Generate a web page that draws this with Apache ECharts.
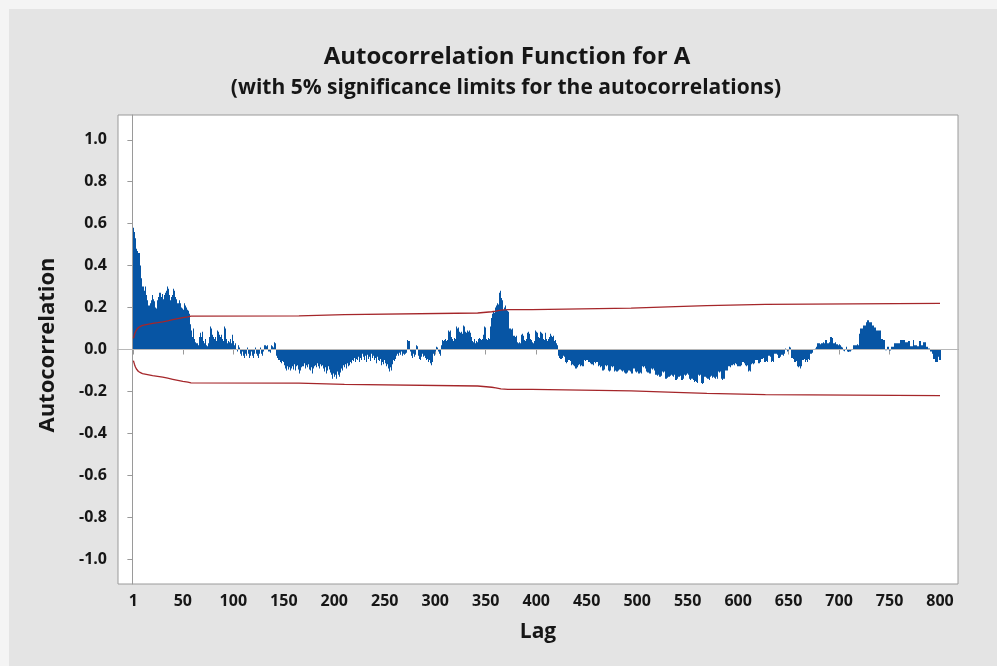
<!DOCTYPE html>
<html>
<head>
<meta charset="utf-8">
<script src="https://cdn.jsdelivr.net/npm/echarts@6/dist/echarts.min.js"></script>
<style>
  html, body { margin: 0; padding: 0; background: #f4f4f4; }
  #chart { position: absolute; left: 9px; top: 9px; width: 988px; height: 657px; }
</style>
</head>
<body>
<div id="chart"></div>
<script>
// Lag tick labels on the x axis
const lagTicks = [1, 50, 100, 150, 200, 250, 300, 350, 400, 450, 500, 550, 600, 650, 700, 750, 800];
// Autocorrelation tick labels on the y axis
const acfTicks = [-1.0, -0.8, -0.6, -0.4, -0.2, 0.0, 0.2, 0.4, 0.6, 0.8, 1.0];

// Sample autocorrelations for lags 1..800 (20 lags per row)
const acf = [
  0.58, 0.56, 0.53, 0.48, 0.47, 0.46, 0.46, 0.40, 0.34, 0.30, 0.30, 0.28, 0.30, 0.26, 0.235, 0.21, 0.21, 0.22, 0.235, 0.26,
  0.24, 0.23, 0.20, 0.195, 0.235, 0.25, 0.27, 0.27, 0.25, 0.265, 0.24, 0.26, 0.27, 0.28, 0.30, 0.29, 0.26, 0.235, 0.25, 0.26,
  0.29, 0.28, 0.25, 0.24, 0.22, 0.22, 0.235, 0.22, 0.20, 0.195, 0.19, 0.22, 0.21, 0.20, 0.19, 0.185, 0.17, 0.12, 0.09, 0.06,
  0.10, 0.05, 0.035, 0.03, 0.02, 0.06, 0.08, 0.06, 0.085, 0.04, 0.03, 0.05, 0.02, 0.015, 0.03, 0.06, 0.11, 0.10, 0.07, 0.06,
  0.05, 0.06, 0.04, 0.09, 0.085, 0.07, 0.06, 0.07, 0.05, 0.04, 0.11, 0.10, 0.05, 0.03, 0.04, 0.035, 0.05, 0.03, 0.07, 0.04,
  0.02, 0.03, 0.00, -0.01, 0.02, 0.01, -0.02, -0.03, -0.01, -0.03, -0.04, -0.02, -0.03, 0.01, -0.02, -0.04, -0.03, -0.01, -0.03, -0.04,
  -0.02, 0.01, -0.02, -0.03, -0.04, -0.02, 0.01, -0.02, -0.03, -0.01, 0.02, 0.02, 0.015, 0.02, -0.01, -0.01, -0.015, 0.02, 0.015, 0.01,
  0.035, 0.03, -0.03, -0.04, -0.05, -0.05, -0.06, -0.065, -0.055, -0.06, -0.075, -0.09, -0.10, -0.08, -0.095, -0.085, -0.10, -0.09, -0.08, -0.095,
  -0.07, -0.10, -0.08, -0.075, -0.095, -0.115, -0.10, -0.085, -0.08, -0.065, -0.09, -0.075, -0.085, -0.07, -0.095, -0.10, -0.085, -0.115, -0.09, -0.08,
  -0.075, -0.085, -0.065, -0.08, -0.09, -0.07, -0.08, -0.075, -0.09, -0.105, -0.085, -0.115, -0.10, -0.08, -0.095, -0.11, -0.12, -0.14, -0.115, -0.13,
  -0.12, -0.14, -0.105, -0.12, -0.13, -0.11, -0.09, -0.10, -0.075, -0.085, -0.07, -0.09, -0.065, -0.08, -0.075, -0.06, -0.065, -0.05, -0.055, -0.04,
  -0.06, -0.045, -0.05, -0.035, -0.06, -0.04, -0.05, -0.02, -0.035, -0.05, -0.03, -0.06, -0.025, -0.045, -0.035, -0.055, -0.02, -0.04, -0.03, -0.05,
  -0.04, -0.065, -0.035, -0.05, -0.055, -0.045, -0.075, -0.06, -0.07, -0.05, -0.065, -0.08, -0.07, -0.09, -0.105, -0.085, -0.10, -0.07, -0.05, -0.055,
  -0.045, -0.03, -0.02, -0.03, -0.015, -0.025, -0.01, -0.03, -0.02, -0.025, -0.02, -0.015, 0.045, 0.04, -0.01, -0.03, -0.04, -0.02, -0.035, -0.025,
  0.02, 0.015, -0.03, -0.045, -0.05, -0.035, -0.02, -0.035, -0.03, -0.04, -0.05, -0.045, -0.06, -0.05, -0.065, -0.075, -0.06, -0.02, -0.03, -0.01,
  0.013, 0.01, -0.01, -0.02, -0.03, 0.02, 0.045, 0.04, 0.045, 0.05, 0.04, 0.045, 0.09, 0.085, 0.09, 0.06, 0.05, 0.04, 0.055, 0.05,
  0.11, 0.10, 0.105, 0.085, 0.08, 0.085, 0.075, 0.115, 0.11, 0.085, 0.08, 0.09, 0.085, 0.09, 0.08, 0.06, 0.04, 0.035, 0.05, 0.03,
  0.04, 0.035, 0.05, 0.055, 0.05, 0.045, 0.05, 0.07, 0.11, 0.105, 0.05, 0.045, 0.055, 0.05, 0.11, 0.15, 0.17, 0.18, 0.175, 0.20,
  0.21, 0.22, 0.215, 0.27, 0.28, 0.245, 0.235, 0.19, 0.20, 0.21, 0.19, 0.185, 0.18, 0.10, 0.10, 0.095, 0.10, 0.065, 0.06, 0.065,
  0.035, 0.03, 0.035, 0.03, 0.07, 0.075, 0.065, 0.045, 0.04, 0.05, 0.08, 0.085, 0.075, 0.05, 0.045, 0.035, 0.03, 0.04, 0.09, 0.085,
  0.08, 0.06, 0.055, 0.085, 0.08, 0.075, 0.05, 0.045, 0.08, 0.05, 0.04, 0.05, 0.06, 0.075, 0.065, 0.06, 0.065, 0.04, 0.045, 0.03,
  0.02, -0.03, -0.04, -0.045, -0.045, -0.04, -0.03, -0.035, -0.06, -0.065, -0.06, -0.05, -0.05, -0.055, -0.075, -0.07, -0.075, -0.08, -0.09, -0.09,
  -0.085, -0.075, -0.07, -0.08, -0.075, -0.08, -0.08, -0.05, -0.055, -0.05, -0.05, -0.06, -0.06, -0.065, -0.07, -0.07, -0.075, -0.06, -0.065, -0.06,
  -0.06, -0.08, -0.075, -0.085, -0.08, -0.10, -0.10, -0.095, -0.075, -0.08, -0.075, -0.10, -0.105, -0.10, -0.08, -0.085, -0.08, -0.105, -0.10, -0.105,
  -0.105, -0.10, -0.095, -0.10, -0.105, -0.10, -0.11, -0.115, -0.115, -0.11, -0.10, -0.10, -0.105, -0.115, -0.115, -0.09, -0.09, -0.105, -0.11, -0.105,
  -0.115, -0.115, -0.11, -0.115, -0.08, -0.085, -0.08, -0.09, -0.105, -0.11, -0.11, -0.115, -0.115, -0.09, -0.095, -0.09, -0.10, -0.12, -0.12, -0.125,
  -0.12, -0.13, -0.13, -0.125, -0.105, -0.11, -0.105, -0.14, -0.14, -0.135, -0.13, -0.13, -0.125, -0.12, -0.125, -0.13, -0.12, -0.145, -0.145, -0.14,
  -0.13, -0.13, -0.125, -0.145, -0.145, -0.14, -0.12, -0.125, -0.12, -0.115, -0.12, -0.14, -0.145, -0.14, -0.14, -0.145, -0.155, -0.15, -0.155, -0.16,
  -0.12, -0.125, -0.12, -0.16, -0.165, -0.16, -0.13, -0.13, -0.135, -0.14, -0.14, -0.145, -0.13, -0.125, -0.135, -0.13, -0.135, -0.14, -0.13, -0.14,
  -0.105, -0.11, -0.105, -0.14, -0.145, -0.14, -0.14, -0.10, -0.10, -0.08, -0.08, -0.085, -0.075, -0.075, -0.07, -0.075, -0.065, -0.07, -0.08, -0.08,
  -0.08, -0.08, -0.075, -0.06, -0.06, -0.065, -0.075, -0.08, -0.075, -0.105, -0.10, -0.105, -0.07, -0.065, -0.07, -0.065, -0.05, -0.05, -0.05, -0.065,
  -0.065, -0.06, -0.045, -0.045, -0.04, -0.06, -0.06, -0.055, -0.06, -0.03, -0.03, -0.035, -0.06, -0.055, -0.06, -0.02, -0.02, -0.02, -0.025, -0.04,
  -0.04, -0.035, -0.025, -0.025, -0.03, -0.02, 0.005, 0.00, -0.01, -0.005, 0.013, 0.01, -0.04, -0.04, -0.045, -0.06, -0.06, -0.055, -0.08, -0.085,
  -0.08, -0.09, -0.08, -0.05, -0.05, -0.045, -0.06, -0.05, -0.06, -0.045, -0.05, -0.02, -0.02, -0.015, 0.00, 0.00, 0.005, 0.013, 0.03, 0.03,
  0.03, 0.025, 0.03, 0.03, 0.035, 0.03, 0.045, 0.045, 0.03, 0.03, 0.035, 0.06, 0.055, 0.03, 0.03, 0.035, 0.025, 0.025, 0.02, 0.025,
  0.02, 0.013, 0.01, -0.005, -0.008, 0.00, 0.013, -0.01, -0.012, -0.01, -0.01, -0.003, 0.00, 0.02, 0.02, 0.02, 0.02, 0.025, 0.02, 0.075,
  0.10, 0.10, 0.10, 0.115, 0.115, 0.115, 0.13, 0.14, 0.14, 0.13, 0.13, 0.13, 0.115, 0.115, 0.105, 0.105, 0.09, 0.09, 0.09, 0.09,
  0.09, 0.05, 0.05, 0.045, 0.045, -0.003, -0.003, 0.013, 0.013, -0.005, -0.005, 0.013, 0.013, 0.013, 0.03, 0.03, 0.03, 0.03, 0.03, 0.03,
  0.045, 0.045, 0.045, 0.045, 0.045, 0.035, 0.035, 0.035, 0.04, 0.04, 0.015, 0.015, 0.015, 0.045, 0.02, 0.02, 0.02, 0.015, 0.015, 0.04,
  0.04, 0.02, 0.02, 0.035, 0.035, 0.035, 0.013, 0.013, 0.005, 0.005, -0.01, -0.01, -0.02, -0.045, -0.045, -0.06, -0.06, -0.035, -0.05, -0.05
];

// 5% significance limit (half-width) at the lags where it changes
const limitLags = [1, 2, 3, 4, 5, 6, 8, 10, 15, 20, 25, 30, 35, 40, 45, 50, 55, 58,
  165, 166, 210, 211, 342, 343, 356, 360, 365, 372, 396, 397, 494, 495, 538, 539, 569, 570, 627, 628, 800];
const limitValues = [0.053, 0.07, 0.083, 0.093, 0.10, 0.105, 0.11, 0.115, 0.12, 0.125, 0.128, 0.132, 0.137, 0.142, 0.147, 0.152, 0.156, 0.159,
  0.160, 0.166, 0.166, 0.172, 0.174, 0.179, 0.180, 0.183, 0.188, 0.190, 0.190, 0.196, 0.197, 0.203, 0.204, 0.208, 0.209, 0.214, 0.215, 0.219, 0.220];

const barData = acf.map((v, i) => [i + 1, v]);
const upperData = limitLags.map((l, i) => [l, limitValues[i]]);
const lowerData = limitLags.map((l, i) => [l, -limitValues[i]]);

const FONT = '"Open Sans", "Noto Sans", sans-serif';
const TXT = '#161616';
const AXIS = '#9a9a9a';
const BAR = '#0755a4';
const LIMIT = '#a5262a';

// One bar per lag, spanning half a lag either side, snapped to whole pixels
// so that neighbouring bars meet without anti-aliased seams.
function renderAcfBar(params, api) {
  const lag = api.value(0);
  const val = api.value(1);
  const left = api.coord([lag - 0.5, 0]);
  const right = api.coord([lag + 0.5, 0]);
  const top = api.coord([lag, val]);
  const x0 = Math.round(left[0]);
  const x1 = Math.max(x0 + 1, Math.round(right[0]));
  const y0 = Math.min(left[1], top[1]);
  const h = Math.abs(top[1] - left[1]);
  return {
    type: 'rect',
    shape: { x: x0, y: y0, width: x1 - x0, height: h },
    style: { fill: BAR }
  };
}

const chart = echarts.init(document.getElementById('chart'), null, { renderer: 'canvas' });
chart.setOption({
  animation: false,
  backgroundColor: '#e4e4e4',
  textStyle: { fontFamily: FONT },
  grid: {
    left: 109, top: 106, width: 840, height: 469,
    show: true, backgroundColor: '#ffffff', borderColor: AXIS, borderWidth: 1
  },
  xAxis: {
    type: 'value',
    min: -14.25, max: 817.8,
    axisLine: { show: true, lineStyle: { color: AXIS } },
    axisTick: { show: true, customValues: lagTicks, length: 5, lineStyle: { color: AXIS } },
    axisLabel: {
      customValues: lagTicks, margin: 9,
      fontSize: 16, fontWeight: 700, color: TXT, fontFamily: FONT
    },
    splitLine: { show: false }
  },
  yAxis: {
    type: 'value',
    min: -1.118, max: 1.118,
    axisLine: { show: true, lineStyle: { color: AXIS } },
    axisTick: { show: true, customValues: acfTicks, length: 5, lineStyle: { color: AXIS } },
    axisLabel: {
      customValues: acfTicks, margin: 11,
      fontSize: 16, fontWeight: 700, color: TXT, fontFamily: FONT,
      formatter: v => v.toFixed(1)
    },
    splitLine: { show: false }
  },
  series: [
    {
      type: 'custom',
      data: barData,
      encode: { x: 0, y: 1 },
      renderItem: renderAcfBar,
      clip: true,
      silent: true,
      markLine: {
        silent: true, symbol: 'none', label: { show: false },
        lineStyle: { color: '#b8b8b8', width: 1, type: 'solid' },
        data: [{ yAxis: 0 }]
      },
      z: 2
    },
    {
      type: 'line', data: upperData, symbol: 'none', silent: true,
      lineStyle: { color: LIMIT, width: 1.3 }, z: 3
    },
    {
      type: 'line', data: lowerData, symbol: 'none', silent: true,
      lineStyle: { color: LIMIT, width: 1.3 }, z: 3
    }
  ],
  graphic: [
    {
      type: 'text', x: 498, y: 48,
      style: {
        text: 'Autocorrelation Function for A', align: 'center', verticalAlign: 'middle',
        font: '700 24px ' + FONT, fill: TXT
      }
    },
    {
      type: 'text', x: 497, y: 79,
      style: {
        text: '(with 5% significance limits for the autocorrelations)', align: 'center', verticalAlign: 'middle',
        font: '700 21px ' + FONT, fill: TXT
      }
    },
    {
      type: 'text', x: 529, y: 623,
      style: {
        text: 'Lag', align: 'center', verticalAlign: 'middle',
        font: '700 21px ' + FONT, fill: TXT
      }
    },
    {
      type: 'text', x: 39, y: 336, rotation: Math.PI / 2,
      style: {
        text: 'Autocorrelation', align: 'center', verticalAlign: 'middle',
        font: '700 22px ' + FONT, fill: TXT
      }
    }
  ]
});
</script>
</body>
</html>
